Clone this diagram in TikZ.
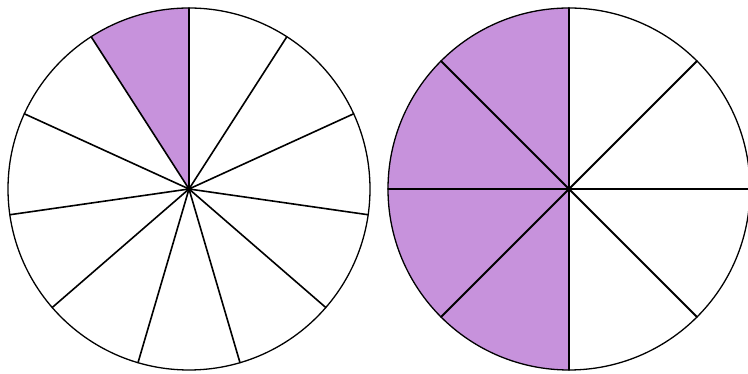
\documentclass[tikz,border=0pt]{standalone}
\usepackage{xcolor}
\definecolor{piepurple}{HTML}{C792DC}

\begin{document}
\begin{tikzpicture}[
  x=1pt, y=1pt,
  shadedslice/.style={fill=piepurple},
  rimline/.style={line width=1.3pt},
  spokeline/.style={line width=1.6pt, line cap=round}
]
  \useasboundingbox (0,0) rectangle (748,374);
  % left circle: elevenths, one shaded
  \coordinate (lc) at (189,185);
  \fill[shadedslice] (lc) -- ++(90:181pt) arc[start angle=90, end angle={90+360/11}, radius=181pt] -- cycle;
  \draw[rimline] (lc) circle[radius=181pt];
  \foreach \k in {0,...,10}
    \draw[spokeline] (lc) -- ++({90+\k*360/11}:181pt);
  \fill (lc) circle[radius=3pt];
  % right circle: eighths, left half shaded
  \coordinate (rc) at (569,185);
  \fill[shadedslice] (rc) -- ++(90:181pt) arc[start angle=90, end angle=270, radius=181pt] -- cycle;
  \draw[rimline] (rc) circle[radius=181pt];
  \foreach \k in {0,...,7}
    \draw[spokeline, line width=2pt] (rc) -- ++({\k*45}:181pt);
  \fill (rc) circle[radius=2.5pt];
\end{tikzpicture}
\end{document}
